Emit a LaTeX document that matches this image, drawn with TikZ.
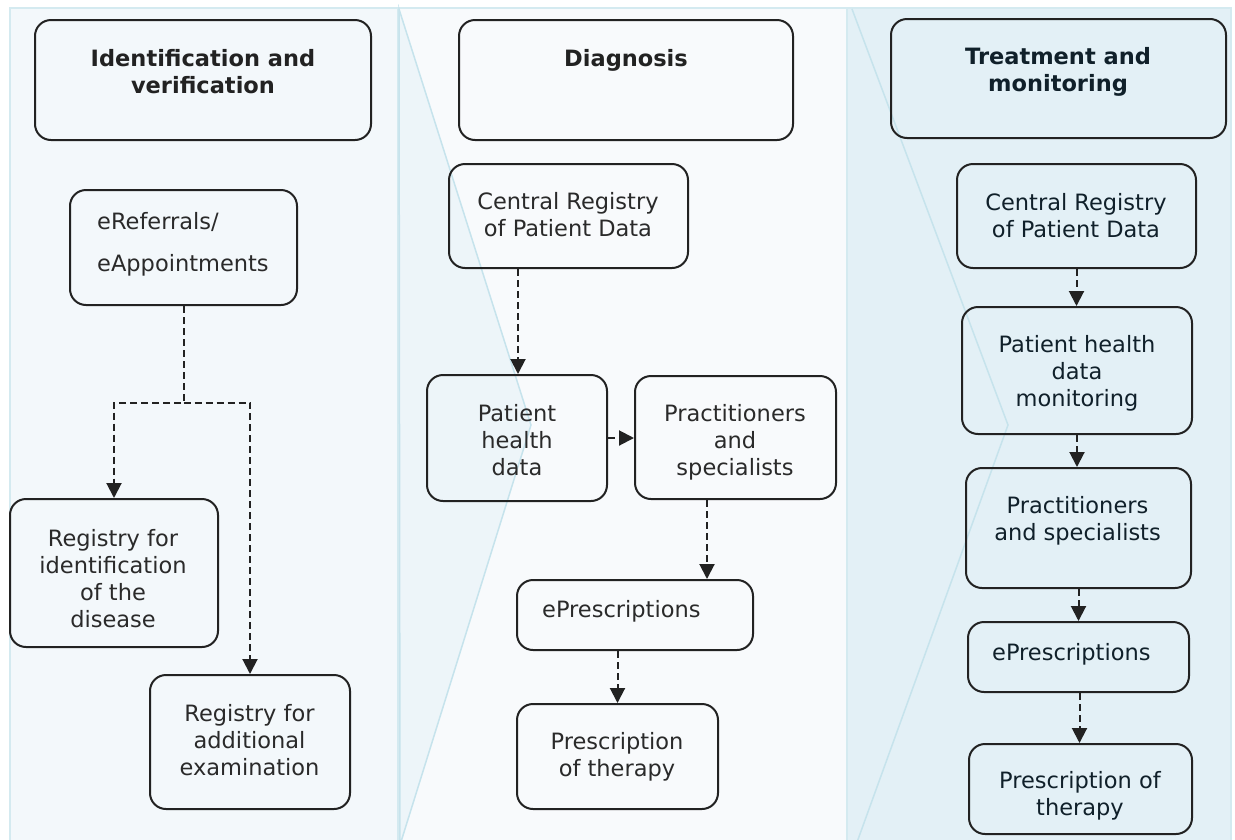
\documentclass[tikz,border=0pt]{standalone}
\usepackage{fontspec}
\setmainfont{DejaVu Sans}
\usetikzlibrary{arrows.meta}
\definecolor{colL}{HTML}{F3F8FB}
\definecolor{colM}{HTML}{F8FAFC}
\definecolor{colR}{HTML}{E3F0F6}
\definecolor{colChev}{HTML}{EDF5F9}
\definecolor{colEdge}{HTML}{D4EAF0}
\definecolor{colLine}{HTML}{C6E3EC}
\definecolor{ink}{HTML}{222222}
\definecolor{inkR}{HTML}{10202A}
\definecolor{txt}{HTML}{2A2A2A}
\tikzset{
  box/.style={draw=ink, line width=2pt, rounded corners=16pt, inner sep=0pt},
  lbl/.style={inner sep=0pt, text=txt, font=\fontsize{22.5}{27}\selectfont, align=center},
  hdr/.style={lbl, font=\fontsize{22.5}{27}\selectfont\bfseries, text=ink},
  conn/.style={draw=ink, line width=2pt, dash pattern=on 7pt off 4pt,
    -{Triangle[length=15pt,width=15pt]}},
}
\begin{document}
\begin{tikzpicture}[x=1pt,y=-1pt]
\useasboundingbox (0,0) rectangle (1235,839);
% backgrounds
\fill[white] (0,0) rectangle (1235,839);
\draw[fill=colL, draw=colEdge, line width=1.5pt] (10,8) rectangle (398,845);
\draw[fill=colM, draw=colEdge, line width=1.5pt] (398,8) rectangle (847,845);
\draw[fill=colChev, draw=colLine, line width=1.5pt] (399,9) -- (531,425) -- (400,845) -- cycle;
\draw[fill=colR, draw=colEdge, line width=1.5pt] (847,8) rectangle (1231,845);
\draw[colLine, line width=1.5pt] (852,9) -- (1008,425) -- (856,845);

% headers
\node[box, minimum width=336pt, minimum height=120pt] (h1) at (203,80) {};
\node[box, minimum width=334pt, minimum height=120pt] (h2) at (626,80) {};
\node[box, minimum width=335pt, minimum height=119pt] (h3) at (1058.5,78.5) {};
\node[hdr] (t1) at (203,74.1) {\strut Identification and\\\strut verification};
\node[hdr] (t2) at (626,60.6) {\strut Diagnosis};
\node[hdr, text=inkR] (t3) at (1058,72.6) {\strut Treatment and\\\strut monitoring};

% left column
\node[box, minimum width=227pt, minimum height=115pt] (ref) at (183.5,247.5) {};
\node[box, minimum width=208pt, minimum height=148pt] (rid) at (114,573) {};
\node[box, minimum width=200pt, minimum height=134pt] (rae) at (250,742) {};
\node[lbl, align=left, anchor=west] (tref) at (97,244.6) {\strut eReferrals/\\[15pt]\strut eAppointments};
\node[lbl] (trid) at (113,581.1) {\strut Registry for\\\strut identification\\\strut of the\\\strut disease};
\node[lbl] (trae) at (249.5,742.6) {\strut Registry for\\\strut additional\\\strut examination};

% middle column
\node[box, minimum width=239pt, minimum height=104pt] (crm) at (568.5,216) {};
\node[box, minimum width=180pt, minimum height=126pt] (phm) at (517,438) {};
\node[box, minimum width=201pt, minimum height=123pt] (psm) at (735.5,437.5) {};
\node[box, minimum width=236pt, minimum height=70pt] (epm) at (635,615) {};
\node[box, minimum width=201pt, minimum height=105pt] (ptm) at (617.5,756.5) {};
\node[lbl] (tcrm) at (568,217.6) {\strut Central Registry\\\strut of Patient Data};
\node[lbl] (tphm) at (517,443.1) {\strut Patient\\\strut health\\\strut data};
\node[lbl] (tpsm) at (735,443.1) {\strut Practitioners\\\strut and\\\strut specialists};
\node[lbl, anchor=west] (tepm) at (542,611.6) {\strut ePrescriptions};
\node[lbl] (tptm) at (617,757.6) {\strut Prescription\\\strut of therapy};

% right column
\node[box, minimum width=239pt, minimum height=104pt] (crr) at (1076.5,216) {};
\node[box, minimum width=230pt, minimum height=127pt] (mon) at (1077,370.5) {};
\node[box, minimum width=225pt, minimum height=120pt] (psr) at (1078.5,528) {};
\node[box, minimum width=221pt, minimum height=70pt] (epr) at (1078.5,657) {};
\node[box, minimum width=223pt, minimum height=90pt] (ptr) at (1080.5,789) {};
\node[lbl, text=inkR] (tcrr) at (1076,218.1) {\strut Central Registry\\\strut of Patient Data};
\node[lbl, text=inkR] (tmon) at (1077,374.1) {\strut Patient health\\\strut data\\\strut monitoring};
\node[lbl, text=inkR] (tpsr) at (1077.5,521.6) {\strut Practitioners\\\strut and specialists};
\node[lbl, text=inkR, anchor=west] (tepr) at (992,654.6) {\strut ePrescriptions};
\node[lbl, text=inkR] (tptr) at (1080,796.6) {\strut Prescription of\\\strut therapy};

% connectors left
\coordinate (split) at (183.5,402.5);
\draw[conn] (ref.south) -- (split) -| (rid.north);
\draw[conn] (split) -| (rae.north);
% connectors middle
\draw[conn] ([xshift=1pt]phm.north |- crm.south) -- ([xshift=1pt]phm.north);
\draw[conn] (phm.east) -- (phm.east -| psm.west);
\draw[conn] ([xshift=-28.5pt]psm.south) -- ([xshift=-28.5pt]psm.south |- epm.north);
\draw[conn] (ptm.north |- epm.south) -- (ptm.north);
% connectors right
\draw[conn] (crr.south) -- (crr.south |- mon.north);
\draw[conn] (mon.south) -- (mon.south |- psr.north);
\draw[conn] (psr.south) -- (psr.south |- epr.north);
\draw[conn] ([xshift=1pt]epr.south) -- ([xshift=1pt]epr.south |- ptr.north);
\end{tikzpicture}
\end{document}
